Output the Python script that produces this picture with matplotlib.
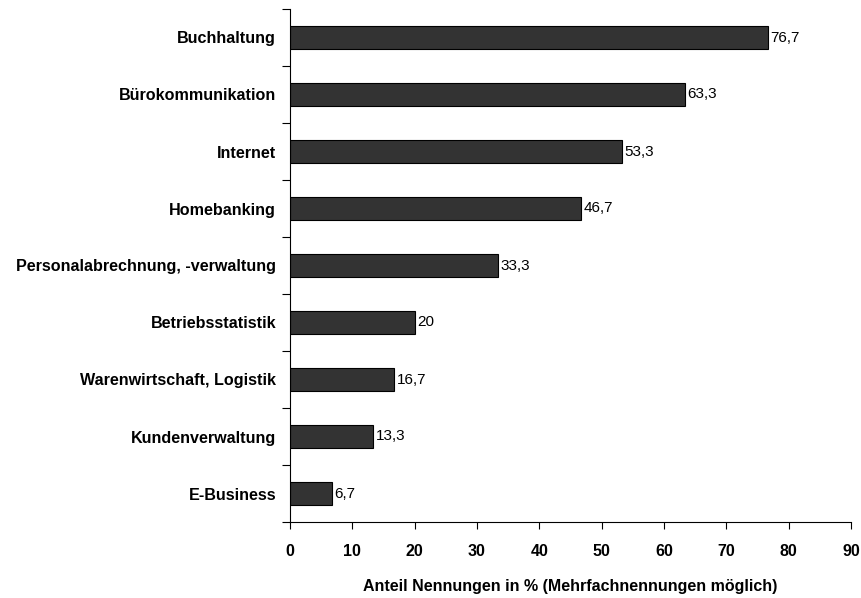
import numpy as np
import matplotlib.pyplot as plt
from matplotlib import font_manager

# Software-Einsatz, Anteil Nennungen in %
kategorien = ['Buchhaltung', 'Bürokommunikation', 'Internet', 'Homebanking',
              'Personalabrechnung, -verwaltung', 'Betriebsstatistik',
              'Warenwirtschaft, Logistik', 'Kundenverwaltung', 'E-Business']
anteile = [76.7, 63.3, 53.3, 46.7, 33.3, 20.0, 16.7, 13.3, 6.7]
wert_texte = ['76,7', '63,3', '53,3', '46,7', '33,3', '20', '16,7', '13,3', '6,7']
x_ticks = [0, 10, 20, 30, 40, 50, 60, 70, 80, 90]

namen = {f.name for f in font_manager.fontManager.ttflist}
schmal = 'Liberation Sans Narrow' in namen
schrift = 'Liberation Sans Narrow' if schmal else 'Liberation Sans'
plt.rcParams['font.family'] = [schrift, 'DejaVu Sans']
k = 1.15 if schmal else 1.0  # schmale Schrift darf etwas größer sein

fig = plt.figure(figsize=(8.62, 5.98), dpi=100)
ax = fig.add_axes([290 / 862, 76 / 598, 561 / 862, 513 / 598])

pos = np.arange(len(kategorien))
ax.barh(pos, anteile, height=0.4, color='#333333', edgecolor='black', linewidth=0.8)

for p, v, t in zip(pos, anteile, wert_texte):
    ax.text(v + 0.4, p, t, va='center', ha='left', fontsize=11 * k, color='black')

ax.set_xlim(0, 90)
ax.set_ylim(len(kategorien) - 0.5, -0.5)
ax.set_xticks(x_ticks)
ax.set_xticklabels([str(t) for t in x_ticks], fontsize=11.5 * k, fontweight='bold')
ax.tick_params(axis='x', direction='out', length=5, width=0.8, pad=11)

# Striche zwischen den Kategorien, Beschriftung in der Mitte
ax.set_yticks(np.arange(len(kategorien) + 1) - 0.5)
ax.set_yticklabels([])
ax.tick_params(axis='y', which='major', direction='out', length=6, width=0.8)
ax.set_yticks(pos, minor=True)
ax.set_yticklabels(kategorien, minor=True, fontsize=11.6 * k, fontweight='bold')
ax.tick_params(axis='y', which='minor', length=0, pad=10)

for s in ['top', 'right']:
    ax.spines[s].set_visible(False)
for s in ['left', 'bottom']:
    ax.spines[s].set_linewidth(0.8)

ax.set_xlabel('Anteil Nennungen in % (Mehrfachnennungen möglich)', fontsize=11.5 * k,
              fontweight='bold', labelpad=14)

fig.savefig('out.png', dpi=100)
